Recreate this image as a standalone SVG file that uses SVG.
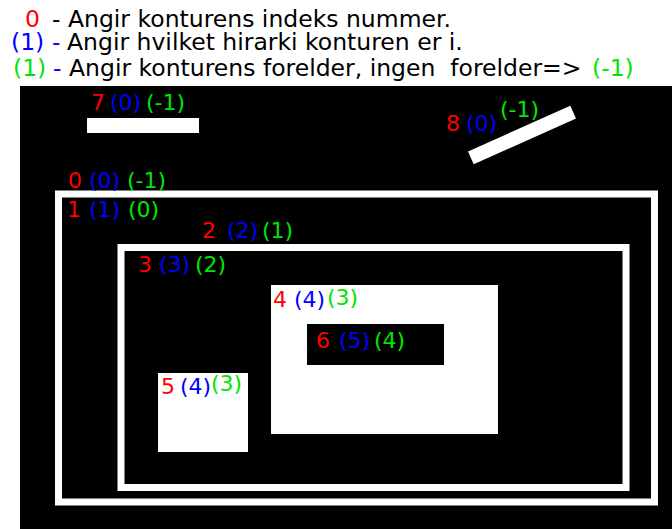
<svg xmlns="http://www.w3.org/2000/svg" width="672" height="529" viewBox="0 0 672 529">
<style>
text{font-family:"DejaVu Sans","Liberation Sans",sans-serif;font-size:22px}
.h{font-size:23.5px}
.r{fill:#ff0000}.b{fill:#0000ff}.g{fill:#00e600}.k{fill:#000000}
.sh{fill:#ffffff}
.fr{fill:none;stroke:#ffffff;stroke-width:7}
</style>
<rect x="0" y="0" width="672" height="529" fill="#ffffff"/>
<g id="legend">
<text x="25" y="27" class="h r">0</text>
<text x="52" y="27" class="h k">- Angir konturens indeks nummer.</text>
<text x="11" y="50" class="h b">(1)</text>
<text x="52" y="50" class="h b">-</text>
<text x="67" y="50" class="h k">Angir hvilket hirarki konturen er i.</text>
<text x="13" y="76" class="h g">(1)</text>
<text x="53" y="76" class="h b">-</text>
<text x="69" y="76" class="h k" xml:space="preserve">Angir konturens forelder, ingen  forelder=&gt;</text>
<text x="592" y="76" class="h g">(-1)</text>
</g>
<rect id="background" x="20" y="86" width="652" height="443" fill="#000000"/>
<g id="c7">
<rect x="87" y="118" width="112" height="15" class="sh"/>
<text x="91" y="110" class="r">7</text><text x="110" y="110" class="b">(0)</text><text x="146" y="110" class="g">(-1)</text>
</g>
<g id="c8">
<rect x="466" y="128" width="112" height="14" class="sh" transform="rotate(-24 522 135)"/>
<text x="446" y="131" class="r">8</text><text x="466" y="131" class="b">(0)</text><text x="500" y="117" class="g">(-1)</text>
</g>
<g id="c0">
<rect x="58.5" y="194" width="596" height="308" class="fr"/>
<text x="68" y="188" class="r">0</text><text x="89" y="188" class="b">(0)</text><text x="127" y="188" class="g">(-1)</text>
</g>
<g id="c1">
<text x="67" y="217" class="r">1</text><text x="89" y="217" class="b">(1)</text><text x="128" y="217" class="g">(0)</text>
</g>
<g id="c2">
<rect x="121" y="247.5" width="505" height="240" class="fr"/>
<text x="202" y="238" class="r">2</text><text x="227" y="238" class="b">(2)</text><text x="262" y="238" class="g">(1)</text>
</g>
<g id="c3">
<text x="138" y="272" class="r">3</text><text x="159" y="272" class="b">(3)</text><text x="195" y="272" class="g">(2)</text>
</g>
<g id="c4">
<rect x="271" y="285" width="227" height="149" class="sh"/>
<text x="273" y="307" class="r">4</text><text x="294" y="307" class="b">(4)</text><text x="327" y="305" class="g">(3)</text>
</g>
<g id="c6">
<rect x="307" y="324" width="137" height="41" fill="#000000"/>
<text x="316" y="348" class="r">6</text><text x="339" y="348" class="b">(5)</text><text x="374" y="348" class="g">(4)</text>
</g>
<g id="c5">
<rect x="158" y="373" width="90" height="79" class="sh"/>
<text x="161" y="394" class="r">5</text><text x="180" y="394" class="b">(4)</text><text x="211" y="391" class="g">(3)</text>
</g>
<g id="connectors"></g>
</svg>
